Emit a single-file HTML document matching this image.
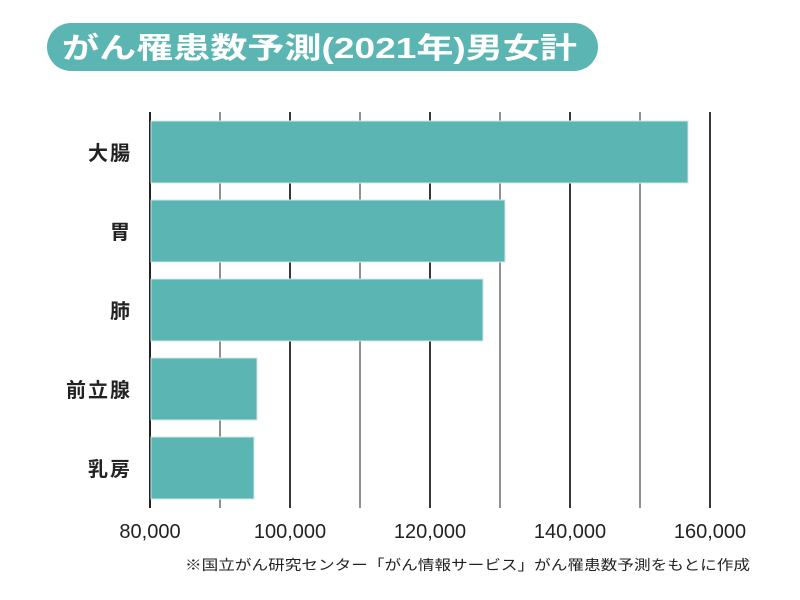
<!DOCTYPE html>
<html><head><meta charset="utf-8"><style>
body{margin:0;background:#fff;}
svg{display:block;}
</style></head><body>
<svg width="800" height="600" xmlns="http://www.w3.org/2000/svg" font-family="'Liberation Sans','Noto Sans CJK JP',sans-serif">
<rect x="47" y="23" width="551" height="48" rx="24" fill="#5bb5b2"/>
<text x="62" y="58" font-size="29" font-weight="600" fill="#fff" textLength="515" lengthAdjust="spacingAndGlyphs">がん罹患数予測(2021年)男女計</text>
<g stroke="#222">
<line x1="150" y1="112" x2="150" y2="508" stroke-width="2"/>
<line x1="220" y1="112" x2="220" y2="508" stroke-width="1"/>
<line x1="290" y1="112" x2="290" y2="508" stroke-width="1.8"/>
<line x1="360" y1="112" x2="360" y2="508" stroke-width="1"/>
<line x1="430" y1="112" x2="430" y2="508" stroke-width="1.8"/>
<line x1="500" y1="112" x2="500" y2="508" stroke-width="1"/>
<line x1="570" y1="112" x2="570" y2="508" stroke-width="1.8"/>
<line x1="640" y1="112" x2="640" y2="508" stroke-width="1"/>
<line x1="710" y1="112" x2="710" y2="508" stroke-width="1.8"/>
</g>
<g fill="#5bb5b2" stroke="#cfe8e7" stroke-width="1">
<rect x="151" y="121" width="537" height="62"/>
<rect x="151" y="200" width="354" height="62"/>
<rect x="151" y="279" width="332" height="62"/>
<rect x="151" y="358" width="106" height="62"/>
<rect x="151" y="437" width="103" height="62"/>
</g>
<g font-size="20" font-weight="bold" fill="#222" text-anchor="end" letter-spacing="2">
<text x="132" y="160">大腸</text>
<text x="132" y="239">胃</text>
<text x="132" y="318">肺</text>
<text x="132" y="397">前立腺</text>
<text x="132" y="476">乳房</text>
</g>
<g font-size="20" fill="#222" text-anchor="middle">
<text x="150" y="538">80,000</text>
<text x="290" y="538">100,000</text>
<text x="430" y="538">120,000</text>
<text x="570" y="538">140,000</text>
<text x="710" y="538">160,000</text>
</g>
<text x="750" y="570" font-size="14" fill="#222" text-anchor="end" textLength="565" lengthAdjust="spacingAndGlyphs">※国立がん研究センター「がん情報サービス」がん罹患数予測をもとに作成</text>
</svg>
</body></html>
